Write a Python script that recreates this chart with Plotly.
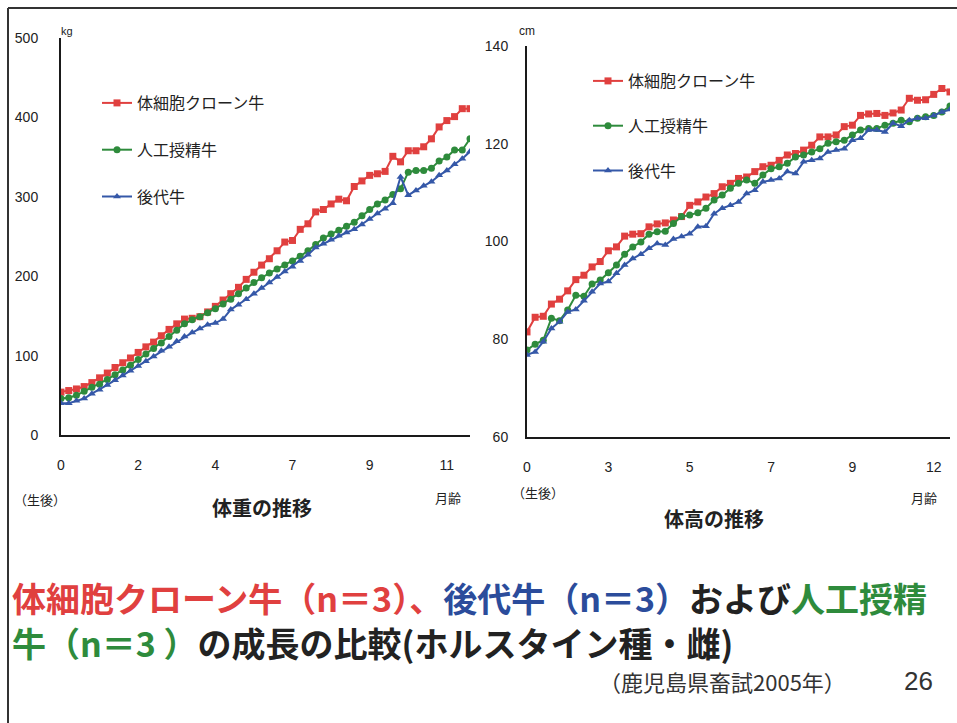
import plotly.graph_objects as go

# ---------------- data ----------------
weight_weeks = list(range(54))
weight_ticks = [0, 10, 20, 30, 40, 50]
weight_ticktext = ["0", "2", "4", "7", "9", "11"]

weight_clone = [54, 56, 58, 61, 66, 72, 78, 85, 91, 97, 104, 111, 117, 125, 133, 140, 146, 147, 149, 155,
                162, 170, 178, 186, 196, 205, 214, 222, 232, 243, 245, 259, 266, 281, 284, 291, 297, 295, 313, 320,
                327, 329, 332, 351, 344, 358, 358, 363, 373, 388, 396, 401, 411, 411]
weight_ai = [46, 47, 50, 55, 60, 64, 70, 76, 82, 88, 95, 102, 109, 116, 124, 132, 140, 145, 149, 154,
             159, 165, 171, 178, 185, 192, 198, 204, 209, 214, 219, 225, 232, 240, 248, 253, 258, 263, 268, 276,
             284, 291, 296, 303, 310, 331, 333, 333, 336, 345, 350, 359, 359, 373]
weight_progeny = [40, 40, 43, 46, 52, 57, 63, 69, 75, 81, 87, 93, 99, 106, 111, 118, 124, 129, 134, 139,
                  141, 146, 158, 164, 171, 178, 185, 192, 199, 206, 212, 219, 227, 236, 241, 246, 251, 255, 259, 265,
                  272, 279, 285, 292, 325, 302, 308, 314, 319, 327, 333, 341, 348, 357]

height_weeks = list(range(53))
height_ticks = [0, 10, 20, 30, 40, 50]
height_ticktext = ["0", "3", "5", "7", "9", "12"]

height_clone = [81.5, 84.5, 84.7, 87.2, 88.2, 89.9, 92.2, 93.1, 94.8, 95.9, 98.1, 98.9, 101.1, 101.5,
                101.6, 103.0, 103.6, 103.8, 104.4, 105.1, 107.4, 108.1, 109.1, 109.8,
                111.2, 111.9, 112.9, 113.2, 114.3, 115.3, 115.6, 116.6, 117.7, 118.0,
                118.7, 119.7, 121.4, 121.4, 121.8, 123.5, 123.8, 125.8, 126.1, 126.2,
                125.8, 126.3, 126.9, 129.3, 128.9, 129.0, 130.1, 131.3, 130.6]
height_ai = [77.8, 79.0, 79.8, 84.3, 83.8, 86.0, 89.0, 88.8, 91.3, 92.1, 93.6, 95.2, 97.4, 98.9, 99.9, 101.5,
             102.0, 102.1, 103.7, 105.1, 105.4, 105.9, 106.8, 108.5, 109.5, 110.9,
             111.9, 112.6, 111.9, 113.6, 114.9, 115.3, 116.0, 117.3, 117.7, 118.3,
             119.0, 120.1, 120.4, 120.7, 121.8, 122.8, 123.1, 123.1, 123.8, 124.2,
             124.8, 124.5, 125.2, 125.5, 125.8, 126.5, 127.7]
height_progeny = [76.8, 77.4, 79.5, 82.2, 83.6, 85.6, 86.1, 87.9, 89.7, 91.4, 91.8, 93.5, 95.2, 96.5, 97.4,
                  98.6, 99.6, 99.3, 100.5,
                  101.0, 101.6, 103.0, 103.1, 105.7, 106.8, 107.4, 108.1, 109.8, 110.5, 112.2, 112.6, 112.9,
                  114.3, 113.9, 116.3, 116.6, 117.0, 118.3, 118.7, 119.0, 120.7, 121.1, 122.8, 122.8, 122.4,
                  124.2, 123.6, 124.8, 125.2, 125.2, 125.8, 126.5, 127.0]

series_names = ["体細胞クローン牛", "人工授精牛", "後代牛"]

# ---------------- styles ----------------
RED = "#E0403F"
GREEN = "#2E8B3C"
BLUE = "#3558A8"
DARK = "#222222"
JP = "Noto Sans CJK JP"
NUM = "Liberation Sans, Arial"

W, H = 957, 723

fig = go.Figure()

styles = [(RED, "square", 7), (GREEN, "circle", 7), (BLUE, "triangle-up", 7)]

for (name, ys, (col, sym, sz)) in zip(series_names, [weight_clone, weight_ai, weight_progeny], styles):
    fig.add_trace(go.Scatter(
        x=weight_weeks, y=ys, name=name, mode="lines+markers",
        line=dict(color=col, width=2), marker=dict(symbol=sym, size=sz, color=col),
        xaxis="x", yaxis="y", legend="legend", legendgroup="w" + name))

for (name, ys, (col, sym, sz)) in zip(series_names, [height_clone, height_ai, height_progeny], styles):
    fig.add_trace(go.Scatter(
        x=height_weeks, y=ys, name=name, mode="lines+markers",
        line=dict(color=col, width=2), marker=dict(symbol=sym, size=sz, color=col),
        xaxis="x2", yaxis="y2", legend="legend2", legendgroup="h" + name))


def px(x):
    return x / W


def py(y):
    return 1 - y / H


axis_common = dict(showgrid=False, zeroline=False, showline=True, linecolor="#1a1a1a", linewidth=2,
                   ticks="", automargin=False, tickfont=dict(family=NUM, size=14, color=DARK))

fig.update_layout(
    width=W, height=H,
    margin=dict(l=0, r=0, t=0, b=0, autoexpand=False),
    paper_bgcolor="white", plot_bgcolor="white",
    showlegend=True,
    xaxis=dict(domain=[px(61), px(470)], range=[0, 53], anchor="y",
               tickmode="array", tickvals=weight_ticks, ticktext=weight_ticktext,
               ticklabelstandoff=16, **axis_common),
    yaxis=dict(domain=[py(435), py(38)], range=[0, 500], anchor="x",
               tickmode="array", tickvals=[0, 100, 200, 300, 400, 500],
               ticklabelstandoff=18, **axis_common),
    xaxis2=dict(domain=[px(527), px(950)], range=[0, 52], anchor="y2",
                tickmode="array", tickvals=height_ticks, ticktext=height_ticktext,
                ticklabelstandoff=16, **axis_common),
    yaxis2=dict(domain=[py(437), py(46)], range=[60, 140], anchor="x2",
                tickmode="array", tickvals=[60, 80, 100, 120, 140],
                ticklabelstandoff=14, **axis_common),
    legend=dict(x=px(97), y=py(86), xanchor="left", yanchor="top",
                bgcolor="rgba(0,0,0,0)", font=dict(family=JP, size=16, color=DARK),
                tracegroupgap=23, itemwidth=30),
    legend2=dict(x=px(588), y=py(64), xanchor="left", yanchor="top",
                 bgcolor="rgba(0,0,0,0)", font=dict(family=JP, size=16, color=DARK),
                 tracegroupgap=21, itemwidth=30),
)

ann = []


def text(x, y, s, size, color=DARK, family=JP, xanchor="center"):
    ann.append(dict(x=px(x), y=py(y), xref="paper", yref="paper", text=s, showarrow=False,
                    xanchor=xanchor, yanchor="middle", font=dict(family=family, size=size, color=color)))


text(67, 31, "kg", 11, family=NUM, xanchor="center")
text(527, 31, "cm", 12, family=NUM, xanchor="center")
text(40, 499, "（生後）", 13)
text(448, 497, "月齢", 13)
text(262, 508, "<b>体重の推移</b>", 20)
text(538, 492, "（生後）", 13)
text(924, 497, "月齢", 13)
text(714, 518, "<b>体高の推移</b>", 20)

title_line1 = (f"<b><span style='color:{RED}'>体細胞クローン牛（n＝3）</span>、"
               f"<span style='color:#2B4C9B'>後代牛（n＝3）</span>"
               f"<span style='color:{DARK}'>および</span>"
               f"<span style='color:{GREEN}'>人工授精</span></b>")
title_line2 = (f"<b><span style='color:{GREEN}'>牛（n＝3 ）</span>"
               f"<span style='color:{DARK}'>の成長の比較(ホルスタイン種・雌)</span></b>")
ann.append(dict(x=px(10), y=py(597), xref="paper", yref="paper", text=title_line1, showarrow=False,
                xanchor="left", yanchor="middle", align="left",
                font=dict(family=JP, size=34, color=RED)))
ann.append(dict(x=px(10), y=py(642), xref="paper", yref="paper", text=title_line2, showarrow=False,
                xanchor="left", yanchor="middle", align="left",
                font=dict(family=JP, size=34, color=DARK)))
text(722, 681, "（鹿児島県畜試2005年）", 22, color="#333333")
text(918, 681, "26", 26, color="#333333", family=NUM)

fig.update_layout(annotations=ann)

fig.update_layout(shapes=[
    dict(type="line", xref="paper", yref="paper", x0=px(8), x1=1, y0=py(8), y1=py(8),
         line=dict(color="#333333", width=2)),
    dict(type="line", xref="paper", yref="paper", x0=px(8), x1=px(8), y0=py(8), y1=0,
         line=dict(color="#333333", width=2)),
])

fig.write_html("out.html", config={"displayModeBar": False},
               post_script="document.body.style.margin='0px';")
